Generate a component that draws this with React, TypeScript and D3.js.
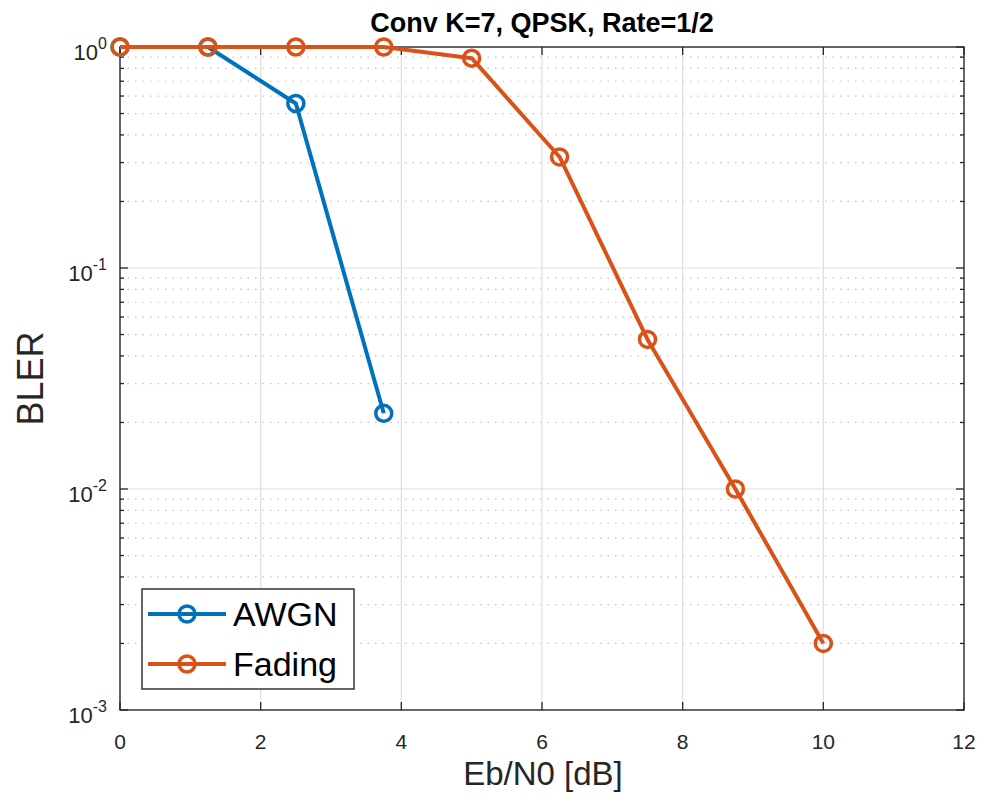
import React from "react";
import * as d3 from "d3";

const ebn0 = [0, 1.25, 2.5, 3.75, 5, 6.25, 7.5, 8.75, 10];
const awgnBler = [1, 1, 0.555, 0.022];
const fadingBler = [1, 1, 1, 1, 0.89, 0.318, 0.0475, 0.01, 0.002];
const seriesNames = ["AWGN", "Fading"];
const seriesColors = ["#0072BD", "#D95319"];
const xTicks = [0, 2, 4, 6, 8, 10, 12];
const yDecades = [-3, -2, -1, 0];

export default function App() {
  const W = 984, H = 804;
  const L = 120, R = 964, T = 47, B = 710;
  const x = d3.scaleLinear().domain([0, 12]).range([L, R]);
  const y = d3.scaleLog().domain([1e-3, 1]).range([B, T]);
  const font = "Liberation Sans, Arial, Helvetica, sans-serif";

  const minors: number[] = [];
  for (const e of [-3, -2, -1]) for (let m = 2; m <= 9; m++) minors.push(m * Math.pow(10, e));

  const line = d3.line<[number, number]>().x(d => x(d[0])).y(d => y(d[1]));
  const series = [
    awgnBler.map((v, i) => [ebn0[i], v] as [number, number]),
    fadingBler.map((v, i) => [ebn0[i], v] as [number, number]),
  ];

  const lg = { x0: 142, y0: 589, x1: 354, y1: 689 };

  return (
    <svg width={W} height={H} style={{ position: "absolute", left: 0, top: 0, background: "#fff" }} fontFamily={font}>
      <rect x={0} y={0} width={W} height={H} fill="#fff" />
      {minors.map((v, i) => (
        <line key={"mg" + i} x1={L} x2={R} y1={y(v)} y2={y(v)} stroke="#c4c4c4" strokeWidth={1.2} strokeDasharray="1.5 6" />
      ))}
      {xTicks.slice(1, -1).map(t => (
        <line key={"gx" + t} x1={x(t)} x2={x(t)} y1={T} y2={B} stroke="#dedede" strokeWidth={1.2} />
      ))}
      {yDecades.slice(1, -1).map(e => (
        <line key={"gy" + e} x1={L} x2={R} y1={y(Math.pow(10, e))} y2={y(Math.pow(10, e))} stroke="#dedede" strokeWidth={1.2} />
      ))}
      <rect x={L} y={T} width={R - L} height={B - T} fill="none" stroke="#262626" strokeWidth={1.4} />
      {xTicks.map(t => (
        <g key={"xt" + t}>
          <line x1={x(t)} x2={x(t)} y1={B} y2={B - 8} stroke="#262626" strokeWidth={1.3} />
          <line x1={x(t)} x2={x(t)} y1={T} y2={T + 8} stroke="#262626" strokeWidth={1.3} />
          <text x={x(t)} y={749} textAnchor="middle" fontSize={21} fill="#262626">{t}</text>
        </g>
      ))}
      {yDecades.map(e => {
        const yy = y(Math.pow(10, e));
        return (
          <g key={"yt" + e}>
            <line x1={L} x2={L + 8} y1={yy} y2={yy} stroke="#262626" strokeWidth={1.3} />
            <line x1={R} x2={R - 8} y1={yy} y2={yy} stroke="#262626" strokeWidth={1.3} />
            <text x={107} y={yy + 13} textAnchor="end" fontSize={22} fill="#262626">
              10<tspan dy={-11} fontSize={16}>{e}</tspan>
            </text>
          </g>
        );
      })}
      {minors.map((v, i) => (
        <g key={"mt" + i}>
          <line x1={L} x2={L + 4} y1={y(v)} y2={y(v)} stroke="#262626" strokeWidth={1.3} />
          <line x1={R} x2={R - 4} y1={y(v)} y2={y(v)} stroke="#262626" strokeWidth={1.3} />
        </g>
      ))}
      {series.map((s, si) => (
        <g key={"s" + si}>
          <path d={line(s) || ""} fill="none" stroke={seriesColors[si]} strokeWidth={4} strokeLinejoin="round" />
          {s.map((p, pi) => (
            <circle key={pi} cx={x(p[0])} cy={y(p[1])} r={8} fill="none" stroke={seriesColors[si]} strokeWidth={3.5} />
          ))}
        </g>
      ))}
      <rect x={lg.x0} y={lg.y0} width={lg.x1 - lg.x0} height={lg.y1 - lg.y0} fill="#fff" stroke="#262626" strokeWidth={1.4} />
      {seriesNames.map((n, i) => {
        const yy = 614 + i * 50;
        return (
          <g key={"lg" + n}>
            <line x1={148} x2={226} y1={yy} y2={yy} stroke={seriesColors[i]} strokeWidth={4} />
            <circle cx={187} cy={yy} r={8} fill="none" stroke={seriesColors[i]} strokeWidth={3.5} />
            <text x={233} y={yy + 12} fontSize={34} fill="#000">{n}</text>
          </g>
        );
      })}
      <text x={542} y={32} textAnchor="middle" fontSize={27} fontWeight="bold" fill="#000">Conv K=7, QPSK, Rate=1/2</text>
      <text x={543} y={785} textAnchor="middle" fontSize={33} fill="#262626">Eb/N0 [dB]</text>
      <text transform={`translate(43,${(T + B) / 2}) rotate(-90)`} textAnchor="middle" fontSize={36} fill="#262626">BLER</text>
    </svg>
  );
}
